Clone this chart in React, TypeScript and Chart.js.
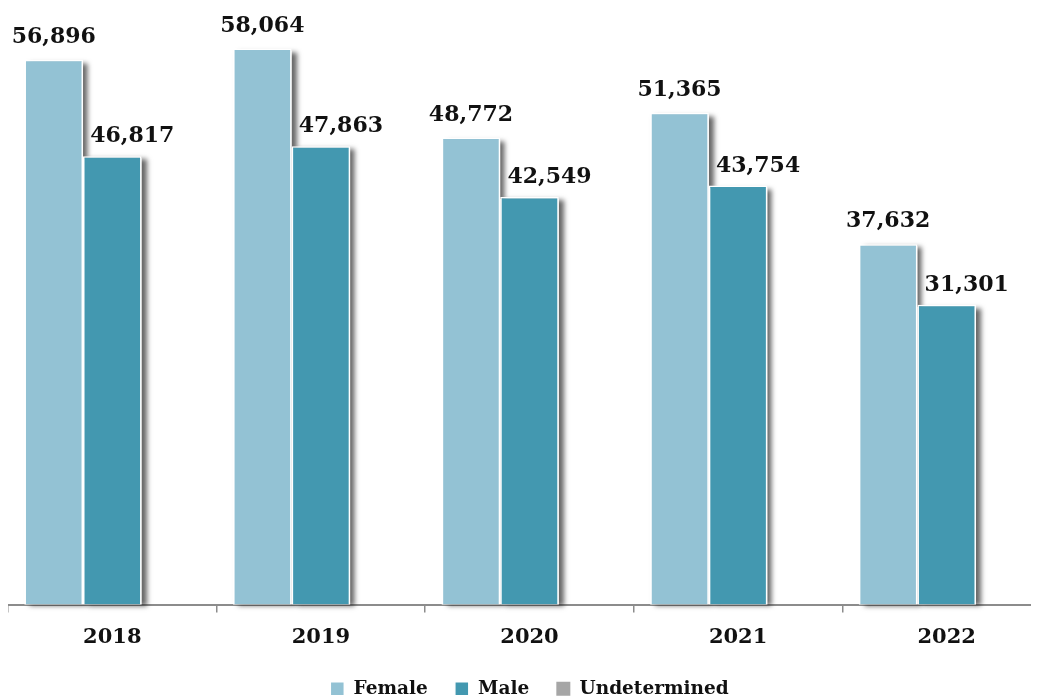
import React, { useEffect, useRef } from "react";
import { Chart, registerables } from "chart.js";

Chart.register(...registerables);

const categories = ["2018", "2019", "2020", "2021", "2022"];
const femaleValues = [56896, 58064, 48772, 51365, 37632];
const maleValues = [46817, 47863, 42549, 43754, 31301];
const undeterminedValues = [0, 0, 0, 0, 0];

const FONT = "'DejaVu Serif', serif";

const shadowPlugin = {
  id: "barShadow",
  beforeDatasetsDraw(chart: any) {
    const ctx = chart.ctx;
    ctx.save();
    ctx.shadowColor = "rgba(0,0,0,0.6)";
    ctx.shadowBlur = 5;
    ctx.shadowOffsetX = 5;
    ctx.shadowOffsetY = 1;
    ctx.fillStyle = "#ffffff";
    [0, 1].forEach((di) => {
      const meta = chart.getDatasetMeta(di);
      meta.data.forEach((el: any) => {
        const p = el.getProps(["x", "y", "base", "width"], true);
        ctx.fillRect(p.x - p.width / 2, p.y + 2, p.width, p.base - p.y - 2);
      });
    });
    ctx.restore();
  },
};

const labelPlugin = {
  id: "valueLabels",
  afterDatasetsDraw(chart: any) {
    const ctx = chart.ctx;
    ctx.save();
    ctx.font = `bold 22px ${FONT}`;
    ctx.fillStyle = "#111";
    ctx.textAlign = "center";
    ctx.textBaseline = "alphabetic";
    const offsets = [0, 20];
    const gaps = [17, 14];
    [0, 1].forEach((di) => {
      const meta = chart.getDatasetMeta(di);
      const data = chart.data.datasets[di].data as number[];
      meta.data.forEach((el: any, i: number) => {
        ctx.fillText(data[i].toLocaleString("en-US"), el.x + offsets[di], el.y - gaps[di]);
      });
    });
    ctx.restore();
  },
};

export default function App() {
  const ref = useRef<HTMLCanvasElement | null>(null);
  useEffect(() => {
    if (!ref.current) return;
    const chart = new Chart(ref.current, {
      type: "bar",
      data: {
        labels: categories,
        datasets: [
          {
            label: "Female",
            data: femaleValues,
            backgroundColor: "#93C2D4",
            borderColor: "#ffffff",
            borderWidth: 1.5,
          },
          {
            label: "Male",
            data: maleValues,
            backgroundColor: "#4398B0",
            borderColor: "#ffffff",
            borderWidth: 1.5,
          },
          {
            label: "Undetermined",
            data: undeterminedValues,
            backgroundColor: "#A6A6A6",
            borderColor: "#A6A6A6",
            borderWidth: 0,
          },
        ],
      },
      options: {
        animation: false,
        responsive: true,
        maintainAspectRatio: false,
        layout: { padding: { top: 22, left: 0, right: 0, bottom: 0 } },
        datasets: { bar: { categoryPercentage: 0.842, barPercentage: 1 } },
        scales: {
          y: { display: false, min: 0, max: 60000 },
          x: {
            afterFit: (scale: any) => {
              scale.height = 48;
            },
            grid: {
              display: true,
              offset: true,
              drawOnChartArea: false,
              drawTicks: true,
              tickLength: 8,
              color: "#8c8c8c",
              lineWidth: 1.5,
            },
            border: { display: true, color: "#8c8c8c", width: 2 },
            ticks: {
              padding: 12,
              color: "#111",
              font: { family: FONT, size: 21, weight: "bold" },
            },
          },
        },
        plugins: {
          tooltip: { enabled: false },
          legend: {
            position: "bottom",
            labels: {
              boxWidth: 14,
              boxHeight: 14,
              padding: 27,
              color: "#111",
              font: { family: FONT, size: 18.5, weight: "bold" },
            },
          },
        },
      },
      plugins: [shadowPlugin, labelPlugin],
    });
    return () => chart.destroy();
  }, []);
  return (
    <div style={{ width: 1031, height: 692, overflow: "hidden" }}>
      <div style={{ width: 1043, height: 700, position: "relative" }}>
        <canvas ref={ref} />
      </div>
    </div>
  );
}
